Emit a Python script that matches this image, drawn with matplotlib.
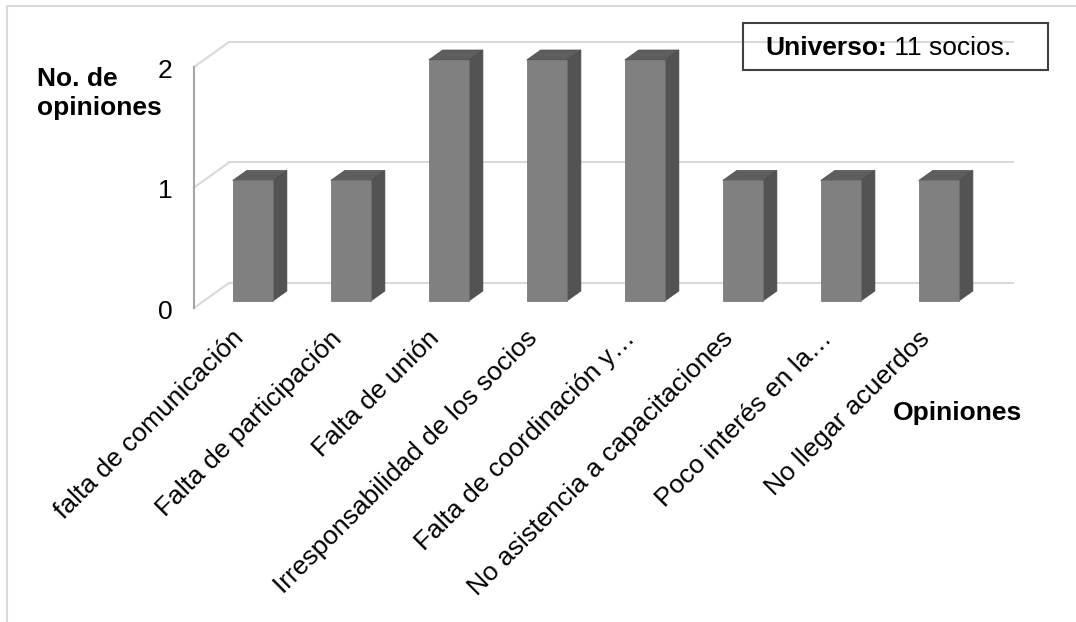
import matplotlib.pyplot as plt
from matplotlib.patches import Polygon, Rectangle
from matplotlib.lines import Line2D

plt.rcParams['font.family'] = ['Liberation Sans', 'DejaVu Sans']

categorias = ['falta de comunicación', 'Falta de participación', 'Falta de unión',
              'Irresponsabilidad de los socios', 'Falta de coordinación y…',
              'No asistencia a capacitaciones', 'Poco interés en la…', 'No llegar acuerdos']
opiniones = [1, 1, 2, 2, 2, 1, 1, 1]
yticks = [0, 1, 2]

# profundidad del efecto 3D (en unidades de los ejes)
DX = 35 / 98.0
DY = 25 / 120.5
D0, D1 = 0.28, 0.68
ANCHO = 0.41
FS = 19


def off(x, y, d):
    return (x + DX * d, y + DY * d)


fig = plt.figure(figsize=(10.76, 6.22), dpi=100)
ax = fig.add_axes([0, 0, 1, 1])
ax.set_xlim(-194 / 98.0, (1076 - 194) / 98.0)
ax.set_ylim(-314 / 120.5, 308 / 120.5)
ax.axis('off')

n = len(categorias)
grid = '#d9d9d9'

# pared del fondo y pared lateral
for v in yticks:
    ax.plot([off(0, v, 1)[0], off(n, v, 1)[0]], [v + DY, v + DY], color=grid, lw=1.5, zorder=1)
    ax.plot([0, DX], [v, v + DY], color=grid, lw=1.5, zorder=1)
    ax.text(-0.22, v - 0.03, str(v), ha='right', va='center', fontsize=FS)
ax.plot([0, 0], [0, max(yticks)], color='#a6a6a6', lw=1.5, zorder=2)

# barras
for i, v in enumerate(opiniones):
    x0 = i + 0.5 - ANCHO / 2
    x1 = i + 0.5 + ANCHO / 2
    frente = [off(x0, 0, D0), off(x1, 0, D0), off(x1, v, D0), off(x0, v, D0)]
    lado = [off(x1, 0, D0), off(x1, 0, D1), off(x1, v, D1), off(x1, v, D0)]
    tapa = [off(x0, v, D0), off(x1, v, D0), off(x1, v, D1), off(x0, v, D1)]
    ax.add_patch(Polygon(lado, closed=True, fc='#535353', ec='#4a4a4a', lw=0.5, zorder=3))
    ax.add_patch(Polygon(tapa, closed=True, fc='#5e5e5e', ec='#4a4a4a', lw=0.5, zorder=3))
    ax.add_patch(Polygon(frente, closed=True, fc='#808080', ec='#6e6e6e', lw=0.5, zorder=4))

# etiquetas del eje x
for i, c in enumerate(categorias):
    ax.text(i + 0.5 - 0.12, -0.15, c, rotation=45, rotation_mode='anchor',
            ha='right', va='top', fontsize=FS)

# titulos de ejes
fig.text(37 / 1076, 1 - 86 / 622, 'No. de', ha='left', va='baseline',
         fontsize=FS, fontweight='bold')
fig.text(37 / 1076, 1 - 115 / 622, 'opiniones', ha='left', va='baseline',
         fontsize=FS, fontweight='bold')
fig.text(893 / 1076, 1 - 413 / 622, 'Opiniones', ha='left', va='center',
         fontsize=FS, fontweight='bold')

# cuadro de universo
fig.patches.append(Rectangle((743 / 1076, 1 - 70 / 622), 305 / 1076, 47 / 622,
                             transform=fig.transFigure, fill=False, ec='#404040', lw=1.5))
t1 = fig.text(765 / 1076, 1 - 48 / 622, 'Universo:', ha='left', va='center',
              fontsize=FS, fontweight='bold')
ax.annotate(' 11 socios.', xy=(1, 0), xycoords=t1, ha='left', va='bottom', fontsize=FS)

# borde del area del grafico
fig.lines.append(Line2D([7 / 1076, 7 / 1076, 1], [0, 1 - 6 / 622, 1 - 6 / 622],
                        transform=fig.transFigure, color='#d9d9d9', lw=1.5))

fig.savefig('out.png', dpi=100)
